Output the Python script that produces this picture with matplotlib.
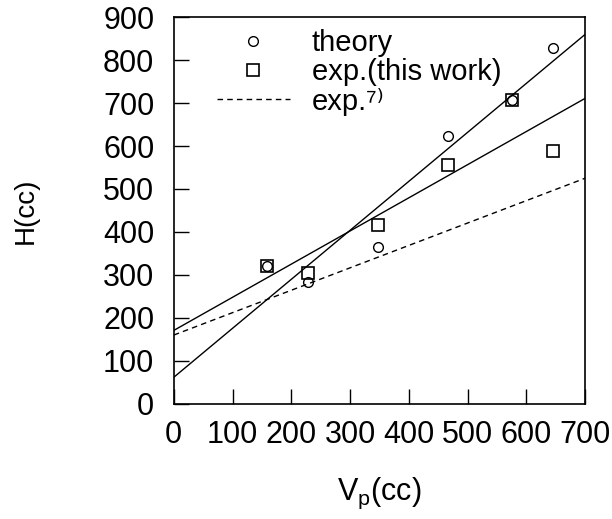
import matplotlib
matplotlib.use('Agg')
import matplotlib.pyplot as plt
import numpy as np

# ===================== DATA =====================
theory_vp = [158, 228, 347, 466, 575, 645]
theory_h = [320, 284, 366, 624, 707, 827]

exp_vp = [158, 228, 347, 466, 575, 645]
exp_h = [320, 304, 417, 555, 707, 588]

# ref. 7) line
ref7_vp = [0, 700]
ref7_h = [160, 525]

x_ticks = [0, 100, 200, 300, 400, 500, 600, 700]
y_ticks = [0, 100, 200, 300, 400, 500, 600, 700, 800, 900]

# ===================== STYLE =====================
plt.rcParams['font.family'] = ['Liberation Sans', 'DejaVu Sans']
plt.rcParams['mathtext.fontset'] = 'custom'
plt.rcParams['mathtext.rm'] = 'Liberation Sans'
plt.rcParams['mathtext.it'] = 'Liberation Sans'

fig = plt.figure(figsize=(6.12, 5.19), dpi=100)
ax = fig.add_axes([0.284, 0.222, 0.672, 0.745])

# fitted lines
xs = np.array([0, 700])
p_th = np.polyfit(theory_vp, theory_h, 1)
p_ex = np.polyfit(exp_vp, exp_h, 1)
ax.plot(xs, np.polyval(p_th, xs), color='black', lw=1.0)
ax.plot(xs, np.polyval(p_ex, xs), color='black', lw=1.0)

ax.plot(theory_vp, theory_h, 'o', mfc='none', mec='black', ms=7, mew=1.0,
        label='theory')
ax.plot(exp_vp, exp_h, 's', mfc='none', mec='black', ms=8, mew=1.2,
        label='exp.(this work)')
ax.plot(ref7_vp, ref7_h, color='black', lw=1.0, ls=(0, (4, 3)),
        label='exp.⁷⁾')

ax.set_xlim(0, 700)
ax.set_ylim(0, 900)
ax.set_xticks(x_ticks)
ax.set_yticks(y_ticks)
ax.tick_params(direction='in', length=11, width=1.0, labelsize=22,
               top=False, right=False)
ax.tick_params(axis='x', pad=12)
ax.tick_params(axis='y', pad=14)
for s in ax.spines.values():
    s.set_linewidth(1.2)

ax.set_xlabel('V$_\\mathrm{p}$(cc)', fontsize=22, labelpad=18)
ax.set_ylabel('H(cc)', fontsize=20, labelpad=46)

leg = ax.legend(loc='upper left', frameon=False, fontsize=21,
                bbox_to_anchor=(0.105, 0.97), handlelength=2.5,
                handletextpad=0.75, labelspacing=0.05,
                borderaxespad=0, borderpad=0)

fig.savefig('out.png', dpi=100)
